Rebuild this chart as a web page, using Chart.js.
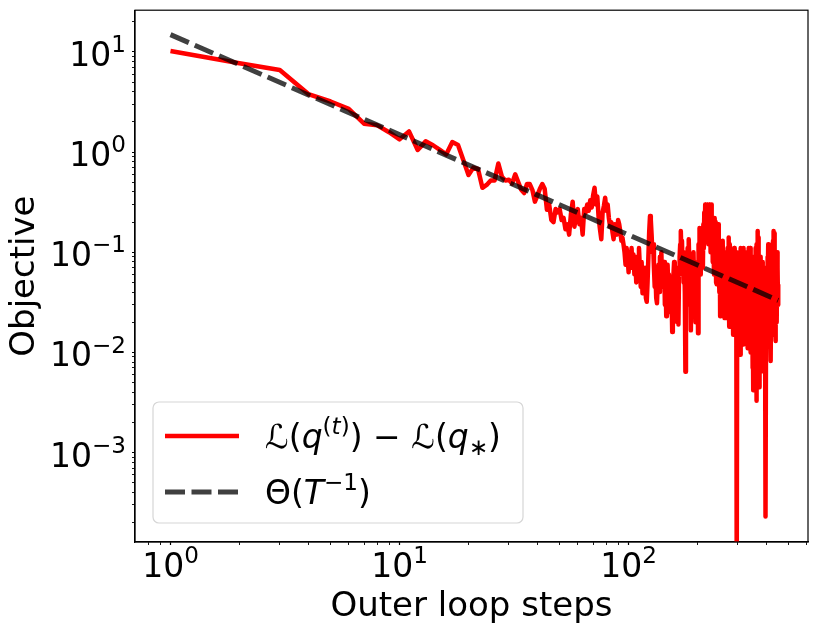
<!DOCTYPE html>
<html>
<head>
<meta charset="utf-8">
<script src="https://cdn.jsdelivr.net/npm/chart.js@4.4.1/dist/chart.umd.min.js"></script>
<style>
  html, body { margin: 0; padding: 0; background: #fff; }
  #wrap { width: 814px; height: 630px; }
</style>
</head>
<body>
<div id="wrap"><canvas id="chart" width="814" height="630"></canvas></div>
<script>
// objective gap per outer loop step
const objective = [
  10.2, 7.7, 6.6, 3.8, 3.2, 2.7, 1.92, 1.85, 1.58, 1.34,
  1.61, 1.05, 1.28, 1.17, 1.05, 0.95, 1.26, 1.18, 0.83, 0.59,
  0.70, 0.68, 0.44, 0.47, 0.52, 0.52, 0.77, 0.565, 0.52, 0.53,
  0.485, 0.60, 0.50, 0.42, 0.39, 0.48, 0.48, 0.42, 0.32, 0.37,
  0.43, 0.48, 0.43, 0.265, 0.30, 0.21, 0.20, 0.27, 0.25, 0.27,
  0.21, 0.22, 0.17, 0.19, 0.15, 0.24, 0.32, 0.18, 0.24, 0.27,
  0.19, 0.22, 0.15, 0.27, 0.25, 0.30, 0.26, 0.33, 0.28, 0.37,
  0.44, 0.30, 0.36, 0.22, 0.17, 0.135, 0.25, 0.29, 0.35, 0.26,
  0.30, 0.22, 0.18, 0.20, 0.16, 0.135, 0.19, 0.17, 0.15, 0.21,
  0.19, 0.16, 0.13, 0.14, 0.12, 0.10, 0.075, 0.11, 0.09, 0.063,
  0.10, 0.08, 0.11, 0.07, 0.095, 0.06, 0.085, 0.05, 0.09, 0.065,
  0.11, 0.07, 0.045, 0.08, 0.039, 0.06, 0.045, 0.07, 0.035, 0.032,
  0.05, 0.09, 0.16, 0.23, 0.21, 0.15, 0.10, 0.12, 0.07, 0.045,
  0.06, 0.035, 0.031, 0.05, 0.075, 0.04, 0.09, 0.06, 0.10, 0.05,
  0.07, 0.045, 0.08, 0.03, 0.06, 0.023, 0.05, 0.075, 0.04, 0.06,
  0.03, 0.05, 0.025, 0.04, 0.016, 0.035, 0.06, 0.08, 0.04, 0.05,
  0.03, 0.07, 0.02, 0.05, 0.019, 0.06, 0.09, 0.12, 0.163, 0.10,
  0.13, 0.07, 0.10, 0.05, 0.08, 0.04, 0.0064, 0.05, 0.09, 0.06,
  0.11, 0.04, 0.135, 0.08, 0.03, 0.06, 0.0166, 0.05, 0.09, 0.04,
  0.07, 0.10, 0.05, 0.03, 0.07, 0.02, 0.03, 0.04, 0.06, 0.08,
  0.0155, 0.12, 0.08, 0.175, 0.10, 0.14, 0.06, 0.16, 0.09, 0.12,
  0.07, 0.19, 0.11, 0.25, 0.15, 0.30, 0.20, 0.26, 0.13, 0.30,
  0.18, 0.29, 0.12, 0.22, 0.30, 0.15, 0.24, 0.10, 0.20, 0.30,
  0.14, 0.21, 0.08, 0.16, 0.11, 0.06, 0.14, 0.22, 0.09, 0.20,
  0.05, 0.12, 0.048, 0.15, 0.07, 0.19, 0.06, 0.10, 0.04, 0.13,
  0.023, 0.08, 0.05, 0.11, 0.03, 0.09, 0.06, 0.13, 0.025, 0.07,
  0.04, 0.10, 0.022, 0.06, 0.09, 0.03, 0.022, 0.05, 0.08, 0.04,
  0.11, 0.06, 0.14, 0.05, 0.018, 0.08, 0.12, 0.04, 0.07, 0.02,
  0.06, 0.10, 0.03, 0.09, 0.05, 0.015, 0.07, 0.04, 0.11, 0.03,
  0.06, 0.02, 0.08, 0.04, 0.10, 0.03, 0.00005, 0.05, 0.07, 0.02,
  0.04, 0.09, 0.06, 0.025, 0.08, 0.05, 0.0095, 0.04, 0.11, 0.06,
  0.03, 0.08, 0.02, 0.10, 0.05, 0.012, 0.07, 0.11, 0.04, 0.06,
  0.02, 0.08, 0.03, 0.10, 0.05, 0.015, 0.07, 0.04, 0.09, 0.011,
  0.05, 0.08, 0.03, 0.11, 0.06, 0.02, 0.09, 0.04, 0.11, 0.01,
  0.06, 0.03, 0.08, 0.012, 0.05, 0.09, 0.03, 0.007, 0.04, 0.0042,
  0.02, 0.06, 0.03, 0.008, 0.05, 0.02, 0.08, 0.04, 0.11, 0.06,
  0.0033, 0.04, 0.12, 0.07, 0.163, 0.09, 0.03, 0.14, 0.05, 0.10,
  0.02, 0.07, 0.0045, 0.04, 0.09, 0.02, 0.06, 0.01, 0.05, 0.03,
  0.07, 0.015, 0.04, 0.08, 0.02, 0.05, 0.0065, 0.03, 0.06, 0.012,
  0.04, 0.07, 0.02, 0.05, 0.009, 0.03, 0.00023, 0.015, 0.04, 0.04,
  0.03, 0.06, 0.02, 0.05, 0.09, 0.04, 0.12, 0.07, 0.10, 0.05,
  0.03, 0.08, 0.04, 0.06, 0.02, 0.05, 0.03, 0.0082, 0.04, 0.07,
  0.03, 0.05, 0.015, 0.06, 0.10, 0.04, 0.13, 0.06, 0.09, 0.05,
  0.163, 0.08, 0.03, 0.155, 0.06, 0.02, 0.10, 0.04, 0.013, 0.07,
  0.03, 0.09, 0.05, 0.02, 0.06, 0.10, 0.04, 0.07, 0.03, 0.048
];
const steps = objective.map((v, i) => i + 1);

// reference rate line, end points
const trendSteps = [1, 450];
const trendValues = [14.9, 0.0331];

const seriesLabels = ['objective', 'rate'];

// axis ticks
const xMajorTicks = [1, 10, 100];
const xMajorExp = ['0', '1', '2'];
const xMinorTicks = [0.8, 0.9, 2, 3, 4, 5, 6, 7, 8, 9, 20, 30, 40, 50, 60, 70, 80, 90, 200, 300, 400, 500, 600];
const yMajorTicks = [0.001, 0.01, 0.1, 1, 10];
const yMajorExp = ['\u22123', '\u22122', '\u22121', '0', '1'];
const yMinorTicks = [
  0.0002, 0.0003, 0.0004, 0.0005, 0.0006, 0.0007, 0.0008, 0.0009,
  0.002, 0.003, 0.004, 0.005, 0.006, 0.007, 0.008, 0.009,
  0.02, 0.03, 0.04, 0.05, 0.06, 0.07, 0.08, 0.09,
  0.2, 0.3, 0.4, 0.5, 0.6, 0.7, 0.8, 0.9,
  2, 3, 4, 5, 6, 7, 8, 9, 20
];

const FONT = '"DejaVu Sans", sans-serif';

function setTicks(majors, minors) {
  return function(scale) {
    const all = majors.map(v => ({ value: v, major: true }))
      .concat(minors.map(v => ({ value: v, major: false })));
    all.sort((a, b) => a.value - b.value);
    scale.ticks = all;
  };
}

// draw text made of pieces (italic, superscript, subscript)
function drawRich(ctx, x, y, parts, size, measureOnly) {
  let cx = x;
  parts.forEach(p => {
    const s = (p.sup || p.sub) ? size * 0.7 : size;
    ctx.font = (p.it ? 'italic ' : '') + s + 'px ' + FONT;
    let dy = 0;
    if (p.sup) dy = -size * 0.42;
    if (p.sub) dy = size * 0.2;
    if (!measureOnly) ctx.fillText(p.t, cx, y + dy);
    cx += ctx.measureText(p.t).width;
  });
  return cx - x;
}

function powLabel(exp) {
  return [{ t: '10' }, { t: exp, sup: true }];
}

const decorPlugin = {
  id: 'decor',
  afterDraw(chart) {
    const ctx = chart.ctx;
    const area = chart.chartArea;
    const xs = chart.scales.x;
    const ys = chart.scales.y;
    ctx.save();

    // frame
    ctx.strokeStyle = '#000';
    ctx.lineWidth = 1.2;
    ctx.strokeRect(area.left, area.top, area.right - area.left, area.bottom - area.top);

    ctx.fillStyle = '#000';
    ctx.textAlign = 'left';
    ctx.textBaseline = 'alphabetic';
    const tickSize = 33;

    // x tick labels
    xMajorTicks.forEach((v, i) => {
      const px = xs.getPixelForValue(v);
      const parts = powLabel(xMajorExp[i]);
      const w = drawRich(ctx, 0, 0, parts, tickSize, true);
      drawRich(ctx, px - w / 2, 577, parts, tickSize);
    });

    // y tick labels
    yMajorTicks.forEach((v, i) => {
      const py = ys.getPixelForValue(v);
      const parts = powLabel(yMajorExp[i]);
      const w = drawRich(ctx, 0, 0, parts, tickSize, true);
      drawRich(ctx, 126 - w, py + 14, parts, tickSize);
    });

    // axis titles
    ctx.font = '34px ' + FONT;
    ctx.textAlign = 'center';
    ctx.fillText('Outer loop steps', (area.left + area.right) / 2, 616);
    ctx.save();
    ctx.translate(34, (area.top + area.bottom) / 2);
    ctx.rotate(-Math.PI / 2);
    ctx.fillText('Objective', 0, 0);
    ctx.restore();

    // legend
    ctx.beginPath();
    ctx.roundRect(153, 402, 370, 121, 6);
    ctx.fillStyle = 'rgba(255,255,255,0.8)';
    ctx.fill();
    ctx.strokeStyle = '#d6d6d6';
    ctx.lineWidth = 1.2;
    ctx.stroke();

    ctx.lineCap = 'butt';
    ctx.beginPath();
    ctx.moveTo(165, 436);
    ctx.lineTo(239, 436);
    ctx.strokeStyle = '#ff0000';
    ctx.lineWidth = 4.5;
    ctx.stroke();

    ctx.beginPath();
    ctx.setLineDash([20, 6.5]);
    ctx.moveTo(165, 492);
    ctx.lineTo(239, 492);
    ctx.strokeStyle = 'rgba(0,0,0,0.75)';
    ctx.lineWidth = 5;
    ctx.stroke();
    ctx.setLineDash([]);

    ctx.fillStyle = '#000';
    ctx.textAlign = 'left';
    const legSize = 33;
    drawRich(ctx, 265, 448, [
      { t: '\u2112(' }, { t: 'q', it: true }, { t: '(', sup: true }, { t: 't', sup: true, it: true },
      { t: ')', sup: true }, { t: ') \u2212 \u2112(' }, { t: 'q', it: true }, { t: '\u2217', sub: true }, { t: ')' }
    ], legSize);
    drawRich(ctx, 265, 504, [
      { t: '\u0398(' }, { t: 'T', it: true }, { t: '\u22121', sup: true }, { t: ')' }
    ], legSize);

    ctx.restore();
  }
};

const ctx = document.getElementById('chart').getContext('2d');
new Chart(ctx, {
  type: 'line',
  data: {
    datasets: [
      {
        label: seriesLabels[0],
        data: steps.map((s, i) => ({ x: s, y: objective[i] })),
        borderColor: '#ff0000',
        borderWidth: 4.5,
        borderJoinStyle: 'round',
        pointRadius: 0,
        tension: 0,
        order: 2
      },
      {
        label: seriesLabels[1],
        data: trendSteps.map((s, i) => ({ x: s, y: trendValues[i] })),
        borderColor: 'rgba(0,0,0,0.75)',
        borderWidth: 5,
        borderDash: [20, 6.5],
        pointRadius: 0,
        tension: 0,
        order: 1
      }
    ]
  },
  options: {
    responsive: false,
    animation: false,
    events: [],
    layout: { padding: { top: 7, right: 6, left: 0, bottom: 0 } },
    plugins: {
      legend: { display: false },
      tooltip: { enabled: false }
    },
    scales: {
      x: {
        type: 'logarithmic',
        min: 0.744,
        max: 607,
        afterBuildTicks: setTicks(xMajorTicks, xMinorTicks),
        afterFit(scale) { scale.height = 88; },
        ticks: { autoSkip: false, maxRotation: 0, callback: () => '' },
        grid: {
          drawOnChartArea: false,
          drawTicks: true,
          tickLength: 3,
          tickColor: '#000',
          tickWidth: c => (c.tick && c.tick.major ? 1.2 : 0.9)
        },
        border: { display: true, color: '#000', width: 1.2 }
      },
      y: {
        type: 'logarithmic',
        min: 1.28e-4,
        max: 26.1,
        afterBuildTicks: setTicks(yMajorTicks, yMinorTicks),
        afterFit(scale) { scale.width = 135; },
        ticks: { autoSkip: false, callback: () => '' },
        grid: {
          drawOnChartArea: false,
          drawTicks: true,
          tickLength: 3,
          tickColor: '#000',
          tickWidth: c => (c.tick && c.tick.major ? 1.2 : 0.9)
        },
        border: { display: true, color: '#000', width: 1.2 }
      }
    }
  },
  plugins: [decorPlugin]
});
</script>
</body>
</html>
